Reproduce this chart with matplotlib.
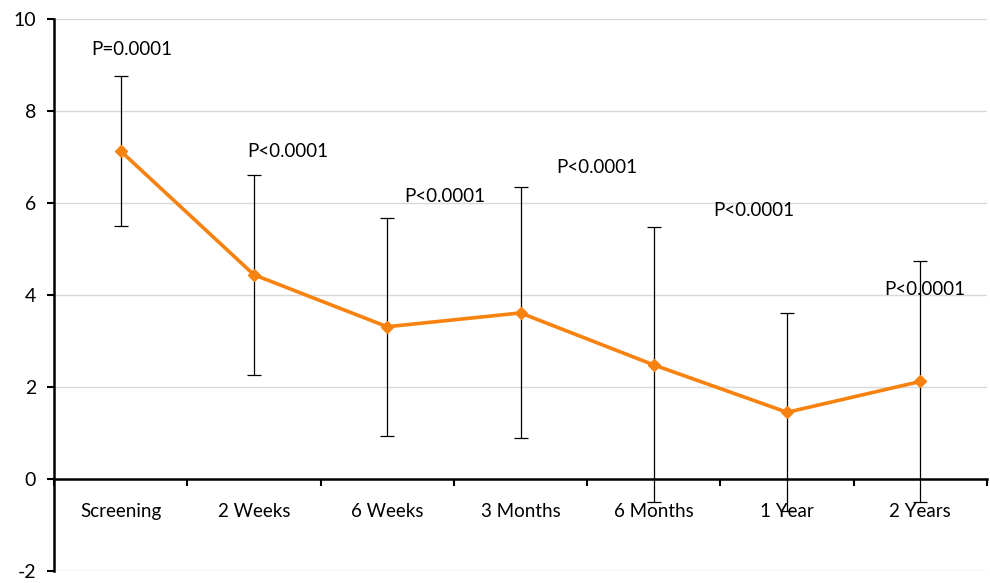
import matplotlib
matplotlib.use("Agg")
import matplotlib.pyplot as plt
import numpy as np

categories = ["Screening", "2 Weeks", "6 Weeks", "3 Months", "6 Months", "1 Year", "2 Years"]
means = [7.13, 4.44, 3.31, 3.61, 2.48, 1.45, 2.12]
upper = [8.77, 6.61, 5.68, 6.34, 5.48, 3.61, 4.75]
lower = [5.50, 2.27, 0.93, 0.89, -0.50, -0.70, -0.50]

p_labels = ["P=0.0001", "P<0.0001", "P<0.0001", "P<0.0001", "P<0.0001", "P<0.0001"]
p_x = [0.085, 1.256, 2.43, 3.57, 4.75, 6.03]
p_y = [9.33, 7.12, 6.15, 6.77, 5.84, 4.13]

y_ticks = [-2, 0, 2, 4, 6, 8, 10]

plt.rcParams['font.family'] = ['Lato', 'DejaVu Sans']

fig = plt.figure(figsize=(9.9, 5.83), dpi=100)
ax = fig.add_axes([54/990, 1 - 571/583, (987 - 54)/990, (571 - 19)/583])

x = np.arange(len(categories))
means_a = np.array(means)
yerr = np.vstack([means_a - np.array(lower), np.array(upper) - means_a])

for yv in y_ticks:
    ax.axhline(yv, color='#D9D9D9', lw=1.0, zorder=0)

ax.errorbar(x, means, yerr=yerr, fmt='none', ecolor='black', elinewidth=0.9,
            capsize=5, capthick=0.9, zorder=2)
ax.plot(x, means, color='#F7820F', lw=2.6, marker='D', markersize=6.5,
        markerfacecolor='#F7820F', markeredgecolor='#F7820F', zorder=3)

for lab, px, py in zip(p_labels, p_x, p_y):
    ax.text(px, py, lab, ha='center', va='center', fontsize=13.5, color='black', zorder=4)

ax.set_xlim(-0.5, len(categories) - 0.5)
ax.set_ylim(-2, 10)
ax.set_yticks(y_ticks)
ax.set_yticklabels([str(v) for v in y_ticks])

ax.set_xticks(x)
ax.set_xticklabels(categories)
ax.set_xticks(np.arange(-0.5, len(categories) + 0.5, 1.0), minor=True)
ax.tick_params(axis='x', which='major', length=0, pad=17, labelsize=13.5)
ax.tick_params(axis='x', which='minor', length=5, width=1.5, direction='out', color='black')
ax.tick_params(axis='y', which='major', length=5, width=1.5, direction='out', pad=8, labelsize=14)

ax.spines['top'].set_visible(False)
ax.spines['right'].set_visible(False)
ax.spines['bottom'].set_position(('data', 0))
ax.spines['bottom'].set_linewidth(1.8)
ax.spines['left'].set_linewidth(1.8)
ax.patch.set_visible(False)

fig.savefig("out.png", dpi=100)
